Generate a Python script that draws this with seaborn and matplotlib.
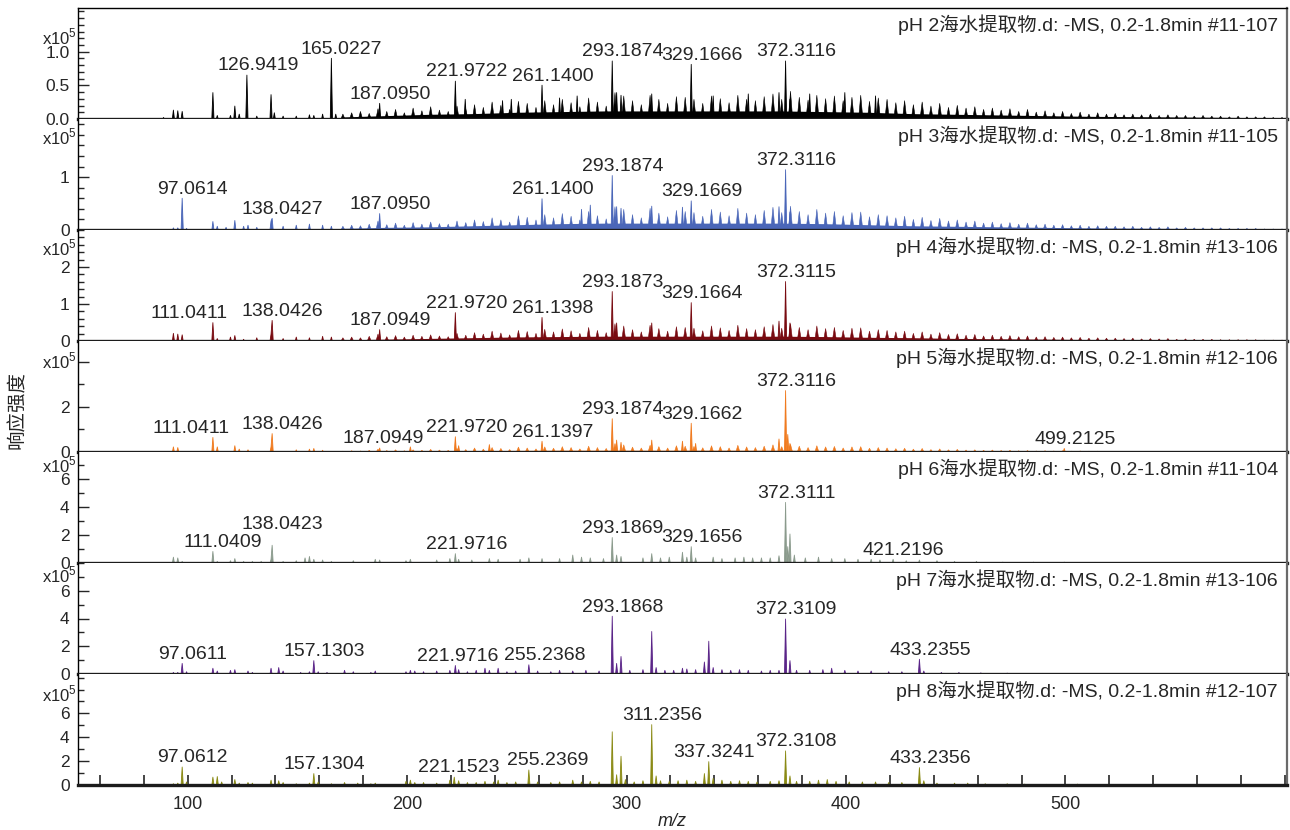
import numpy as np
import pandas as pd
import seaborn as sns
import matplotlib.pyplot as plt
from matplotlib.ticker import MultipleLocator, FixedLocator

sns.set_style("ticks")
plt.rcParams['font.family'] = ['Liberation Sans', 'Noto Sans CJK SC']
plt.rcParams['mathtext.fontset'] = 'custom'
plt.rcParams['mathtext.rm'] = 'Liberation Sans'
plt.rcParams['axes.unicode_minus'] = False

# ---- data (intensity in units of 1e5) ----
titles = ["pH 2海水提取物.d: -MS, 0.2-1.8min #11-107",
          "pH 3海水提取物.d: -MS, 0.2-1.8min #11-105",
          "pH 4海水提取物.d: -MS, 0.2-1.8min #13-106",
          "pH 5海水提取物.d: -MS, 0.2-1.8min #12-106",
          "pH 6海水提取物.d: -MS, 0.2-1.8min #11-104",
          "pH 7海水提取物.d: -MS, 0.2-1.8min #13-106",
          "pH 8海水提取物.d: -MS, 0.2-1.8min #12-107"]
colors = ["#000000", "#4a66b8", "#780a10", "#f07a1e", "#8a9a8c", "#5a2488", "#8a8a14"]

# unresolved background comb (nominal masses) for the dense spectra
bg_mz = np.arange(170, 599, 4)
bg_ph2 = [0.08,0.10,0.12,0.09,0.16,0.12,0.15,0.10, 0.17,0.13,0.19,0.14,0.12,0.20,0.16,0.22,
          0.18,0.26,0.21,0.15,0.27,0.24,0.18,0.28, 0.22,0.30,0.25,0.19,0.32,0.26,0.20,0.40,
          0.35,0.28,0.22,0.36,0.30,0.24,0.34,0.33, 0.30,0.24,0.35,0.31,0.25,0.36,0.30,0.28,
          0.34,0.38,0.30,0.42,0.33,0.29,0.36,0.31, 0.35,0.28,0.33,0.36,0.27,0.32,0.30,0.25,
          0.28,0.22,0.26,0.20,0.24,0.18,0.21,0.17, 0.19,0.15,0.17,0.14,0.16,0.12,0.15,0.11,
          0.13,0.10,0.12,0.09,0.11,0.08,0.10,0.08, 0.09,0.07,0.08,0.07,0.08,0.06,0.07,0.06,
          0.06,0.05,0.06,0.05,0.05,0.04,0.05,0.04, 0.04,0.04,0.03,0.03]
bg_ph3 = [0.08,0.10,0.09,0.12,0.18,0.11,0.14,0.10, 0.15,0.12,0.16,0.13,0.12,0.18,0.15,0.20,
          0.17,0.24,0.20,0.16,0.28,0.25,0.20,0.30, 0.24,0.32,0.27,0.20,0.36,0.28,0.22,0.45,
          0.40,0.30,0.24,0.42,0.33,0.26,0.38,0.36, 0.34,0.27,0.40,0.35,0.28,0.42,0.33,0.30,
          0.38,0.44,0.34,0.46,0.36,0.30,0.40,0.33, 0.36,0.28,0.34,0.35,0.26,0.30,0.28,0.24,
          0.27,0.21,0.25,0.19,0.23,0.18,0.20,0.16, 0.18,0.14,0.16,0.13,0.15,0.12,0.14,0.11,
          0.12,0.10,0.11,0.09,0.10,0.08,0.09,0.08, 0.08,0.07,0.08,0.06,0.07,0.06,0.07,0.05,
          0.06,0.05,0.05,0.05,0.05,0.04,0.04,0.04, 0.04,0.03,0.03,0.03]
bg_ph4 = [0.10,0.12,0.10,0.14,0.20,0.13,0.16,0.12, 0.17,0.14,0.18,0.15,0.13,0.22,0.17,0.24,
          0.20,0.28,0.23,0.18,0.30,0.27,0.22,0.33, 0.26,0.34,0.29,0.22,0.38,0.30,0.24,0.48,
          0.42,0.32,0.26,0.44,0.35,0.28,0.40,0.38, 0.36,0.29,0.42,0.37,0.30,0.44,0.35,0.32,
          0.40,0.46,0.36,0.48,0.38,0.32,0.42,0.35, 0.38,0.30,0.36,0.37,0.28,0.32,0.30,0.26,
          0.28,0.22,0.26,0.20,0.24,0.19,0.21,0.17, 0.19,0.15,0.17,0.14,0.16,0.13,0.15,0.12,
          0.13,0.11,0.12,0.10,0.11,0.09,0.10,0.09, 0.09,0.08,0.09,0.07,0.08,0.07,0.08,0.06,
          0.07,0.06,0.06,0.06,0.05,0.05,0.05,0.05, 0.05,0.04,0.04,0.04]
bg_ph5 = [0.06,0.08,0.07,0.10,0.15,0.09,0.12,0.08, 0.12,0.10,0.14,0.11,0.10,0.18,0.13,0.20,
          0.15,0.22,0.18,0.13,0.24,0.20,0.16,0.25, 0.19,0.26,0.22,0.16,0.28,0.22,0.18,0.40,
          0.34,0.24,0.20,0.32,0.26,0.20,0.30,0.28, 0.27,0.21,0.30,0.26,0.20,0.32,0.25,0.22,
          0.28,0.34,0.26,0.36,0.28,0.22,0.30,0.25, 0.27,0.20,0.25,0.26,0.19,0.22,0.20,0.17,
          0.19,0.15,0.18,0.13,0.16,0.12,0.14,0.11, 0.12,0.10,0.11,0.09,0.10,0.08,0.09,0.07,
          0.08,0.07,0.08,0.06,0.07,0.06,0.06,0.05, 0.05,0.05,0.05,0.04,0.05,0.04,0.04,0.04,
          0.04,0.03,0.04,0.03,0.03,0.03,0.03,0.03, 0.03,0.02,0.02,0.02]

# dense low-level floor under the comb (read every 20 m/z)
floor_mz = [170, 190, 210, 230, 250, 270, 290, 310, 330, 350, 370, 390, 410, 430, 450, 470, 490,
            510, 530, 550, 570, 590]
floor_ph2 = [0.03, 0.05, 0.07, 0.08, 0.10, 0.11, 0.12, 0.12, 0.12, 0.12, 0.12, 0.11, 0.10, 0.08,
             0.07, 0.06, 0.05, 0.04, 0.035, 0.03, 0.025, 0.02]
floor_ph3 = [0.03, 0.05, 0.06, 0.08, 0.10, 0.12, 0.13, 0.13, 0.13, 0.13, 0.13, 0.12, 0.10, 0.08,
             0.07, 0.06, 0.05, 0.04, 0.035, 0.03, 0.025, 0.02]
floor_ph4 = [0.03, 0.05, 0.07, 0.09, 0.11, 0.12, 0.13, 0.13, 0.13, 0.13, 0.13, 0.12, 0.10, 0.09,
             0.07, 0.06, 0.05, 0.04, 0.035, 0.03, 0.025, 0.02]
floor_ph5 = [0.02, 0.04, 0.05, 0.06, 0.07, 0.08, 0.08, 0.08, 0.08, 0.08, 0.08, 0.07, 0.06, 0.05,
             0.045, 0.04, 0.035, 0.03, 0.025, 0.02, 0.02, 0.015]

# resolved peaks: m/z and intensity
mz_ph2 = [88.8, 93, 95, 97, 111.0, 113, 119, 121.0, 123, 126.9419, 131, 137.7, 139, 143, 149, 155, 157,
          161, 165.0227, 167, 187.0950, 221.9722, 226, 243, 247, 261.1400, 269, 277, 293.1874, 295, 297,
          311, 329.1666, 339, 355, 369, 372.3116, 374, 383, 399, 413]
in_ph2 = [0.03, 0.14, 0.13, 0.12, 0.40, 0.06, 0.06, 0.20, 0.08, 0.66, 0.05, 0.37, 0.10, 0.05, 0.05, 0.07, 0.06,
          0.08, 0.91, 0.08, 0.24, 0.57, 0.30, 0.28, 0.30, 0.51, 0.32, 0.35, 0.87, 0.40, 0.36,
          0.38, 0.82, 0.35, 0.38, 0.40, 0.87, 0.30, 0.38, 0.40, 0.35]
mz_ph3 = [93, 95, 97.0614, 99, 111, 113, 117, 121, 125, 127, 131, 137.7, 138.0427, 143, 149, 155, 161, 165,
          187.0950, 261.1400, 279, 283, 293.1874, 295, 297, 311, 325, 329.1669, 369, 372.3116, 374]
in_ph3 = [0.05, 0.05, 0.61, 0.04, 0.17, 0.08, 0.06, 0.19, 0.08, 0.10, 0.06, 0.18, 0.23, 0.08, 0.10, 0.12, 0.10, 0.08,
          0.32, 0.60, 0.40, 0.48, 1.04, 0.45, 0.42, 0.46, 0.44, 0.56, 0.45, 1.15, 0.35]
mz_ph4 = [93, 95, 97, 111.0411, 113, 119, 121, 125, 131, 137.7, 138.0426, 143, 149, 155, 161, 165,
          187.0949, 221.9720, 261.1398, 293.1873, 295, 311, 329.1664, 369, 372.3115, 374]
in_ph4 = [0.22, 0.20, 0.18, 0.51, 0.08, 0.12, 0.16, 0.06, 0.10, 0.20, 0.57, 0.08, 0.12, 0.10, 0.14, 0.12,
          0.32, 0.78, 0.65, 1.35, 0.50, 0.50, 1.05, 0.55, 1.62, 0.50]
mz_ph5 = [93, 95, 111.0411, 113, 121, 123, 127, 137.7, 138.0426, 149, 155, 157, 161, 187.0949, 201,
          221.9720, 223, 237, 261.1397, 293.1874, 295, 297, 311, 325, 329.1662, 331, 369, 372.3116,
          373.3, 374.3, 499.2125]
in_ph5 = [0.25, 0.22, 0.67, 0.25, 0.30, 0.15, 0.12, 0.25, 0.84, 0.12, 0.15, 0.18, 0.10, 0.20, 0.25,
          0.70, 0.30, 0.35, 0.50, 1.50, 0.55, 0.45, 0.55, 0.50, 1.30, 0.40, 0.60, 2.75,
          0.80, 0.40, 0.18]
mz_ph6 = [93, 95, 97, 111.0409, 113, 119, 121, 125, 129, 133, 137.7, 138.0423, 143, 149, 153, 155, 157,
          161, 165, 175, 185, 187, 199, 201, 213, 219, 221.9716, 223, 229, 237, 241, 251, 255, 261,
          269, 275, 279, 283, 289, 293.1869, 295, 297, 307, 311, 315, 319, 325, 327, 329.1656, 331,
          339, 343, 349, 353, 357, 361, 365, 369, 372.3111, 373.3, 374.3, 376, 381, 387, 393, 399,
          405, 411, 415, 421.2196, 427, 433, 441, 449, 459, 471, 485, 499, 513, 541, 565]
in_ph6 = [0.45, 0.40, 0.15, 0.86, 0.15, 0.20, 0.35, 0.15, 0.15, 0.15, 0.30, 1.30, 0.15, 0.20, 0.40, 0.50, 0.30,
          0.25, 0.15, 0.20, 0.30, 0.25, 0.20, 0.30, 0.25, 0.35, 0.70, 0.30, 0.25, 0.35, 0.30, 0.30, 0.40, 0.35,
          0.35, 0.60, 0.45, 0.40, 0.35, 1.85, 0.60, 0.50, 0.40, 0.70, 0.40, 0.45, 0.80, 0.45, 1.20, 0.40,
          0.45, 0.35, 0.40, 0.45, 0.40, 0.40, 0.40, 0.55, 4.35, 1.20, 2.10, 0.60, 0.40, 0.45, 0.35, 0.35,
          0.30, 0.30, 0.25, 0.30, 0.20, 0.25, 0.20, 0.15, 0.15, 0.10, 0.10, 0.10, 0.08, 0.06, 0.05]
mz_ph7 = [93, 95, 97.0611, 99, 111, 113, 119, 121, 127, 129, 137.7, 141, 143, 151, 155, 157.1303, 159, 163,
          171, 175, 183, 185, 199, 201, 203, 207, 213, 219, 221.9716, 223, 227, 231, 235, 237, 241, 245,
          249, 255.2368, 259, 265, 269, 275, 281, 287, 293.1868, 295, 297, 301, 307, 311, 313, 317,
          321, 325, 327, 331, 335, 337, 339, 343, 347, 351, 355, 361, 365, 369, 372.3109, 374, 377,
          383, 389, 393, 399, 405, 411, 419, 425, 433.2355, 435, 443, 451, 461, 473, 489, 505, 521, 539]
in_ph7 = [0.15, 0.15, 0.80, 0.20, 0.45, 0.25, 0.30, 0.35, 0.25, 0.15, 0.45, 0.50, 0.25, 0.15, 0.20, 1.00, 0.20, 0.15,
          0.30, 0.20, 0.15, 0.25, 0.20, 0.30, 0.25, 0.20, 0.25, 0.30, 0.65, 0.35, 0.20, 0.30, 0.45, 0.30, 0.45, 0.20,
          0.25, 0.70, 0.25, 0.20, 0.30, 0.25, 0.30, 0.25, 4.20, 0.80, 1.30, 0.30, 0.35, 3.10, 0.50, 0.30,
          0.30, 0.45, 0.40, 0.35, 0.90, 2.40, 0.50, 0.35, 0.30, 0.35, 0.30, 0.25, 0.30, 0.30, 4.00, 1.00, 0.30,
          0.30, 0.35, 0.45, 0.30, 0.25, 0.25, 0.20, 0.20, 1.10, 0.25, 0.15, 0.15, 0.12, 0.10, 0.08, 0.08, 0.06, 0.05]
mz_ph8 = [93, 95, 97.0612, 99, 111, 113, 115, 121, 123, 127, 129, 137.7, 141, 143, 149, 155, 157.1304, 159, 165,
          171, 177, 183, 185, 199, 201, 203, 207, 213, 219, 221.1523, 223, 227, 231, 235, 239, 241, 245,
          249, 255.2369, 259, 265, 269, 275, 279, 283, 287, 293, 295, 297, 299, 303, 307, 311.2356, 313,
          315, 319, 323, 327, 331, 335, 337.3241, 339, 343, 347, 351, 355, 359, 365, 369, 372.3108, 374,
          377, 383, 387, 391, 395, 401, 407, 413, 419, 425, 433.2356, 435, 441, 449, 455, 463, 473, 481,
          491, 505, 519, 533, 547, 563]
in_ph8 = [0.15, 0.20, 1.55, 0.30, 0.70, 0.75, 0.30, 0.50, 0.20, 0.25, 0.20, 0.45, 0.40, 0.25, 0.15, 0.20, 1.00, 0.30, 0.15,
          0.25, 0.20, 0.15, 0.20, 0.35, 0.45, 0.25, 0.25, 0.20, 0.45, 0.70, 0.40, 0.25, 0.25, 0.35, 0.30, 0.45, 0.25,
          0.30, 1.30, 0.30, 0.25, 0.30, 0.45, 0.30, 0.35, 0.30, 4.50, 0.90, 2.45, 0.50, 0.30, 0.40, 5.10, 0.80,
          0.40, 0.35, 0.40, 0.45, 0.35, 1.00, 2.00, 0.60, 0.45, 0.35, 0.40, 0.35, 0.30, 0.35, 0.40, 2.90, 0.80,
          0.35, 0.35, 0.45, 0.50, 0.35, 0.30, 0.30, 0.30, 0.25, 0.25, 1.50, 0.40, 0.20, 0.20, 0.20, 0.15, 0.15, 0.12,
          0.10, 0.12, 0.10, 0.08, 0.06, 0.05]

labels = [["126.9419", "165.0227", "187.0950", "221.9722", "261.1400", "293.1874", "329.1666", "372.3116"],
          ["97.0614", "138.0427", "187.0950", "261.1400", "293.1874", "329.1669", "372.3116"],
          ["111.0411", "138.0426", "187.0949", "221.9720", "261.1398", "293.1873", "329.1664", "372.3115"],
          ["111.0411", "138.0426", "187.0949", "221.9720", "261.1397", "293.1874", "329.1662", "372.3116", "499.2125"],
          ["111.0409", "138.0423", "221.9716", "293.1869", "329.1656", "372.3111", "421.2196"],
          ["97.0611", "157.1303", "221.9716", "255.2368", "293.1868", "372.3109", "433.2355"],
          ["97.0612", "157.1304", "221.1523", "255.2369", "311.2356", "337.3241", "372.3108", "433.2356"]]

peaks = [(mz_ph2, in_ph2, bg_ph2, floor_ph2), (mz_ph3, in_ph3, bg_ph3, floor_ph3),
         (mz_ph4, in_ph4, bg_ph4, floor_ph4), (mz_ph5, in_ph5, bg_ph5, floor_ph5),
         (mz_ph6, in_ph6, None, None), (mz_ph7, in_ph7, None, None), (mz_ph8, in_ph8, None, None)]

# ---- layout ----
ylims = [1.65, 2.1, 3.0, 4.93, 7.9, 8.0, 9.3]
major_ticks = [[0, 0.5, 1.0], [0, 1], [0, 1, 2], [0, 2, 4], [0, 2, 4, 6], [0, 2, 4, 6], [0, 2, 4, 6]]
tick_labels_shown = [[0, 0.5, 1.0], [0, 1], [0, 1, 2], [0, 2], [0, 2, 4, 6], [0, 2, 4, 6], [0, 2, 4, 6]]
minor_step = [0.1, 0.2, 0.2, 1, 1, 1, 1]
exp_y = [0.74, 0.84, 0.84, 0.82, 0.885, 0.895, 0.82]
# label nudges (points) where the software moved labels to avoid overlap
nudge = {(2, "111.0411"): (-16.5, 0), (3, "111.0411"): (-15, 0), (3, "187.0949"): (3, 0),
         (4, "138.0423"): (8, 8), (5, "221.9716"): (1.5, 0), (5, "255.2368"): (12, 0),
         (6, "221.1523"): (4, 0), (6, "255.2369"): (14, 0), (6, "337.3241"): (4, 0)}

fig = plt.figure(figsize=(12.9, 8.3), dpi=100)
gs = fig.add_gridspec(7, 1, left=78/1290, right=1287/1290, top=1-8/830, bottom=1-785/830, hspace=0)
axes = [fig.add_subplot(gs[i]) for i in range(7)]

for i, ax in enumerate(axes):
    mz, inten, bg, floor = peaks[i]
    c = colors[i]
    if floor is not None:
        ax.fill_between(floor_mz, 0, floor, color=c, lw=0)
    if bg is not None:
        sns.histplot(x=bg_mz, weights=bg, binwidth=1, binrange=(50, 601), element="poly",
                     fill=True, color=c, alpha=1, linewidth=0.4, ax=ax)
    sns.histplot(x=mz, weights=inten, binwidth=0.5, binrange=(50, 601), element="poly",
                 fill=True, color=c, alpha=1, linewidth=0.6, ax=ax)
    ax.set_xlim(50, 601)
    ax.set_ylim(0, ylims[i])
    ax.set_ylabel("")
    ax.set_xlabel("")

    ax.yaxis.set_major_locator(FixedLocator(major_ticks[i]))
    ax.yaxis.set_minor_locator(MultipleLocator(minor_step[i]))
    fmt = "%.1f" if i == 0 else "%d"
    shown = tick_labels_shown[i]
    ax.set_yticklabels([(fmt % t) if t in shown else "" for t in major_ticks[i]])
    ax.tick_params(axis="y", which="major", direction="in", length=8, width=1, labelsize=12.5, pad=6)
    ax.tick_params(axis="y", which="minor", direction="in", length=4, width=1)
    ax.tick_params(axis="y", right=False)

    if i < 6:
        ax.tick_params(axis="x", which="both", bottom=False, labelbottom=False)
    else:
        ax.xaxis.set_major_locator(FixedLocator([100, 200, 300, 400, 500]))
        ax.xaxis.set_minor_locator(MultipleLocator(20))
        ax.tick_params(axis="x", which="both", direction="in", length=7, width=1.2,
                       labelsize=13, pad=8)

    for s in ["left", "top"]:
        ax.spines[s].set_linewidth(1.0)
        ax.spines[s].set_color("black")
    ax.spines["right"].set_linewidth(1.6)
    ax.spines["right"].set_color("#6a6a6a")
    ax.spines["bottom"].set_linewidth(2.4)
    ax.spines["bottom"].set_color("#1c1c1c")
    ax.spines["top"].set_visible(i == 0)

    ax.text(0.9925, 1 - 6/111, titles[i], transform=ax.transAxes, ha="right", va="top", fontsize=14)
    ax.annotate("x10$^5$", xy=(0, exp_y[i]), xycoords="axes fraction", xytext=(-1, 0),
                textcoords="offset points", ha="right", va="center", fontsize=12)

    mz_arr = np.array(mz)
    for lab in labels[i]:
        x = float(lab)
        k = int(np.argmin(np.abs(mz_arr - x)))
        dx, dy = nudge.get((i, lab), (8, 0))
        ax.annotate(lab, xy=(x, inten[k]), xytext=(dx, 3 + dy), textcoords="offset points",
                    ha="center", va="baseline", fontsize=14)

fig.text(672/1290, 1 - 821/830, "m/z", ha="center", va="center", fontsize=13, style="italic")
fig.text(18/1290, 1 - 410/830, "响应强度", ha="center", va="center", rotation=90, fontsize=14)

fig.savefig("out.png", dpi=100)
